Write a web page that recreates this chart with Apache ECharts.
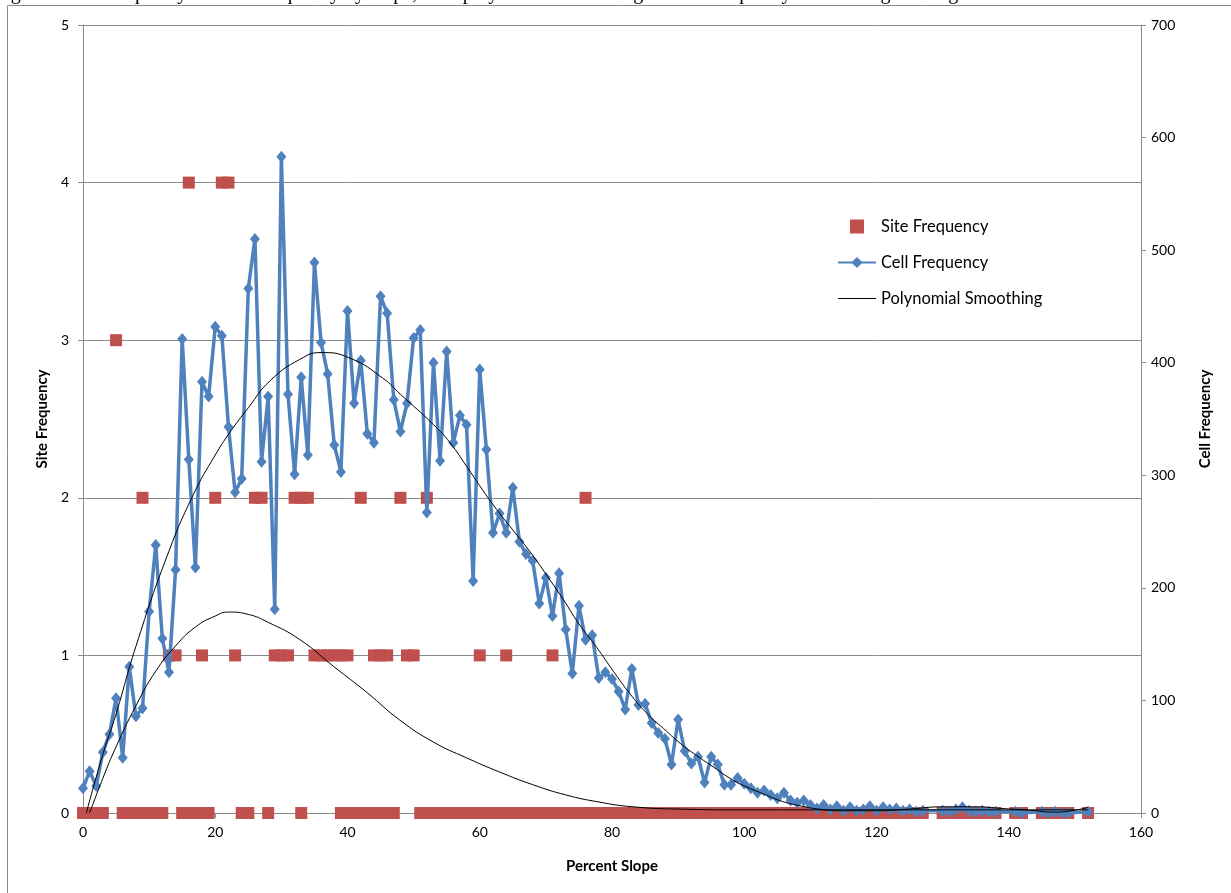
<!DOCTYPE html>
<html>
<head>
<meta charset="utf-8">
<script src="https://cdn.jsdelivr.net/npm/echarts@6/dist/echarts.min.js"></script>
<style>
  html, body { margin: 0; padding: 0; background: #fff; }
  #chart { width: 1231px; height: 893px; }
</style>
</head>
<body>
<div id="chart"></div>
<script>
// cell counts per percent slope, starting at slope 0 (null = no cells at that slope)
const cellCounts = [
  22, 37, 24, 54, 70, 102, 49, 130, 86, 93,
  179, 238, 155, 125, 216, 421, 314, 218, 383, 370,
  432, 424, 343, 285, 297, 466, 510, 312, 370, 181,
  583, 372, 301, 387, 318, 489, 418, 390, 327, 303,
  446, 364, 402, 337, 329, 459, 444, 367, 339, 364,
  422, 429, 267, 400, 313, 410, 329, 353, 345, 206,
  394, 323, 249, 266, 249, 289, 241, 230, 224, 186,
  209, 175, 213, 163, 124, 184, 154, 158, 120, 125,
  119, 108, 92, 128, 96, 97, 80, 71, 66, 43,
  83, 55, 44, 50, 27, 50, 43, 25, 25, 31,
  26, 22, 18, 20, 16, 13, 18, 11, 9, 11,
  7, 4, 7, 3, 6, 2, 5, 2, 3, 6,
  2, 5, 3, 4, 2, 3, 1, 2, null, null,
  2, 1, 3, 5, 2, 1, 2, 1, 1, null,
  null, 1, 0, null, null, 1, 0, 1, 0, 0,
  null, null, 1
]

// site frequency points
const siteZeroSlopes = [
  0, 1, 2, 3, 6, 7, 8, 9, 10, 11, 12, 15, 16, 17, 18, 19, 24, 25, 28, 33,
  39, 40, 41, 42, 43, 44, 45, 46, 47,
  51, 52, 53, 54, 55, 56, 57, 58, 59, 60, 61, 62, 63, 64, 65, 66, 67, 68, 69, 70,
  71, 72, 73, 74, 75, 76, 77, 78, 79, 80, 81, 82, 83, 84, 85, 86, 87, 88, 89, 90,
  91, 92, 93, 94, 95, 96, 97, 98, 99, 100, 101, 102, 103, 104, 105, 106, 107, 108, 109, 110,
  111, 112, 113, 114, 115, 116, 117, 118, 119, 120, 121, 122, 123, 124, 125, 126, 127,
  130, 131, 132, 133, 134, 135, 136, 137, 138, 141, 142, 145, 146, 147, 148, 149, 152
]
const siteOneSlopes = [13, 14, 18, 23, 29, 30, 31, 35, 36, 37, 38, 39, 40, 44, 45, 46, 49, 50, 60, 64, 71]
const siteTwoSlopes = [9, 20, 26, 27, 32, 33, 34, 42, 48, 52, 76]
const siteThreeSlopes = [5]
const siteFourSlopes = [16, 21, 22]

// polynomial smoothing
const cellFitSlopes = [0.5, 3, 5, 8, 12.7, 16.7, 20, 22.2, 25, 28.3, 32.8, 36, 40.4, 45.4, 48, 53, 55.5, 58, 62, 65.6, 68, 70.5, 72.6, 75, 77.7, 80.2, 82.7, 85.2, 87.8, 90.3, 92.8, 95.3, 97.8, 100.4, 102.9, 105.4, 108, 111.5, 115, 120, 125, 130, 135, 139, 143, 147, 150, 152]
const cellFitValues = [0, 52, 88, 148, 228, 283, 318, 338, 360, 384, 403, 409, 404, 386, 372, 345, 329, 308, 274, 247, 229, 208, 190, 168, 147, 126, 106, 89, 75, 62, 51, 41, 31, 23, 17, 11, 7, 3.3, 2, 2, 3.5, 5.5, 5.5, 4, 2.5, 0.8, 2.5, 5]
const siteFitSlopes = [1, 3, 5, 8, 11, 14, 17, 20, 22, 25, 28, 32.8, 37.9, 42.9, 47.9, 53, 58, 63, 68, 73, 78, 83, 90, 100, 110, 120, 130, 140, 152]
const siteFitValues = [0, 0.22, 0.42, 0.68, 0.9, 1.06, 1.18, 1.25, 1.275, 1.26, 1.21, 1.1, 0.93, 0.766, 0.59, 0.45, 0.35, 0.26, 0.18, 0.115, 0.07, 0.04, 0.025, 0.02, 0.02, 0.02, 0.02, 0.02, 0.02]

const caption = 'Figure 6. Site frequency and cell frequency by slope, with polynomial smoothing of each frequency series using a fitting'

const FONT = 'Lato, "Open Sans", sans-serif'
const GRID_COLOR = '#8a8a8a'

function pairs(xs, ys) {
  return xs.map((x, i) => [x, ys[i]])
}

let siteData = []
siteZeroSlopes.forEach(x => siteData.push([x, 0]))
siteOneSlopes.forEach(x => siteData.push([x, 1]))
siteTwoSlopes.forEach(x => siteData.push([x, 2]))
siteThreeSlopes.forEach(x => siteData.push([x, 3]))
siteFourSlopes.forEach(x => siteData.push([x, 4]))

let cellData = cellCounts.map((v, i) => [i, v])

let axisName = { fontFamily: FONT, fontWeight: 'bold', fontSize: 15, color: '#000' }

let chart = echarts.init(document.getElementById('chart'))
chart.setOption({
  animation: false,
  backgroundColor: '#fff',
  textStyle: { fontFamily: FONT },
  graphic: [
    {
      type: 'rect',
      shape: { x: 7.5, y: 5.5, width: 1240, height: 900 },
      style: { fill: 'none', stroke: GRID_COLOR, lineWidth: 1 },
      silent: true
    },
    {
      type: 'text',
      x: -6,
      y: -16,
      style: {
        text: caption,
        font: '20px "Liberation Serif", serif',
        fill: '#000',
        verticalAlign: 'top'
      },
      silent: true
    }
  ],
  grid: {
    left: 83,
    right: 90,
    top: 25,
    bottom: 80
  },
  legend: {
    orient: 'vertical',
    left: 832,
    top: 213,
    itemWidth: 38,
    itemHeight: 14,
    itemGap: 19,
    textStyle: { fontFamily: FONT, fontSize: 16.5, color: '#000' },
    data: [
      { name: 'Site Frequency', icon: 'path://M0,0h10v10h-10z' },
      { name: 'Cell Frequency' },
      { name: 'Polynomial Smoothing', icon: 'path://M0,0h38v1h-38z' }
    ]
  },
  xAxis: {
    type: 'value',
    min: 0,
    max: 160,
    interval: 20,
    name: 'Percent Slope',
    nameLocation: 'middle',
    nameGap: 46,
    nameTextStyle: axisName,
    axisLine: { lineStyle: { color: GRID_COLOR } },
    axisTick: { inside: false, length: 5, lineStyle: { color: GRID_COLOR } },
    axisLabel: { color: '#000', fontSize: 14, margin: 12 },
    splitLine: { show: false }
  },
  yAxis: [
    {
      type: 'value',
      min: 0,
      max: 5,
      interval: 1,
      position: 'left',
      name: 'Site Frequency',
      nameLocation: 'middle',
      nameGap: 33,
      nameTextStyle: axisName,
      axisLine: { show: true, lineStyle: { color: GRID_COLOR } },
      axisTick: { show: true, length: 5, lineStyle: { color: GRID_COLOR } },
      axisLabel: { color: '#000', fontSize: 14, margin: 14 },
      splitLine: { show: true, lineStyle: { color: GRID_COLOR, width: 1 } }
    },
    {
      type: 'value',
      min: 0,
      max: 700,
      interval: 100,
      position: 'right',
      name: 'Cell Frequency',
      nameLocation: 'middle',
      nameGap: 57,
      nameTextStyle: axisName,
      axisLine: { show: true, lineStyle: { color: GRID_COLOR } },
      axisTick: { show: true, length: 5, lineStyle: { color: GRID_COLOR } },
      axisLabel: { color: '#000', fontSize: 14, margin: 10 },
      splitLine: { show: false }
    }
  ],
  series: [
    {
      name: 'Site Frequency',
      type: 'scatter',
      yAxisIndex: 0,
      symbol: 'rect',
      symbolSize: 12,
      itemStyle: { color: '#C0504D', opacity: 1 },
      data: siteData,
      z: 2
    },
    {
      name: 'Cell Frequency',
      type: 'line',
      yAxisIndex: 1,
      symbol: 'diamond',
      symbolSize: [10, 12],
      showAllSymbol: true,
      connectNulls: true,
      lineStyle: { color: '#4F81BD', width: 3.5 },
      itemStyle: { color: '#4F81BD' },
      data: cellData,
      z: 3
    },
    {
      name: 'Polynomial Smoothing',
      type: 'line',
      yAxisIndex: 1,
      smooth: 0.5,
      symbol: 'none',
      lineStyle: { color: '#000', width: 1 },
      itemStyle: { color: '#000' },
      data: pairs(cellFitSlopes, cellFitValues),
      z: 4
    },
    {
      name: 'Polynomial Smoothing',
      type: 'line',
      yAxisIndex: 0,
      smooth: 0.5,
      symbol: 'none',
      lineStyle: { color: '#000', width: 1 },
      itemStyle: { color: '#000' },
      data: pairs(siteFitSlopes, siteFitValues),
      z: 4
    }
  ]
})
</script>
</body>
</html>
